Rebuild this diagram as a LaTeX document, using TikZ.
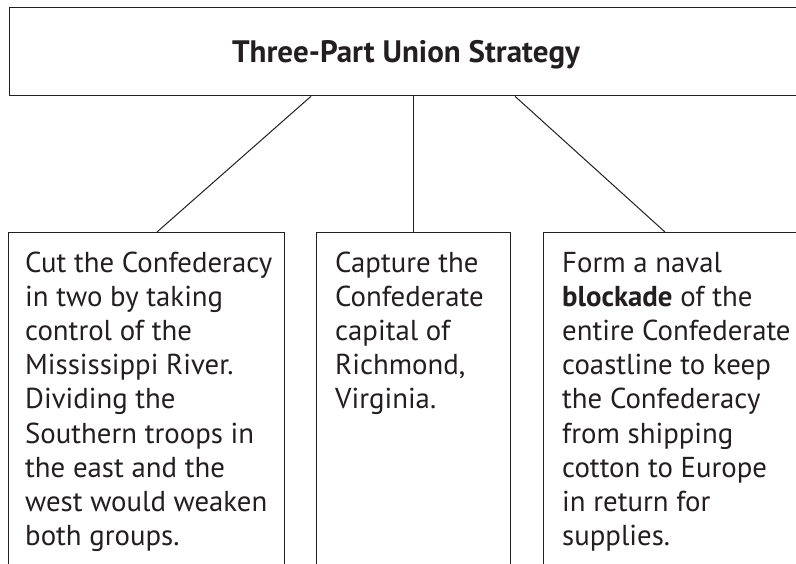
\documentclass[tikz,border=0pt]{standalone}
\usepackage{fontspec}
\setmainfont{PT Sans}
\usetikzlibrary{calc}
\definecolor{ink}{HTML}{231F20}
% a column of lines whose baseline is that of its first line
\newcommand{\toplines}[1]{\begin{tabular}[t]{@{}l@{}}#1\end{tabular}}
\begin{document}
\begin{tikzpicture}[x=1pt,y=-1pt,
  frame/.style={draw=ink,line width=1.3pt,rectangle,inner sep=0pt,anchor=north west},
  body/.style={anchor=base west,inner sep=0pt,text=ink,
    font=\fontsize{28.8}{34.2}\selectfont},
  link/.style={draw=ink,line width=1pt}]
\useasboundingbox (0,0) rectangle (796,563);
\fill[white] (0,0) rectangle (796,563);
\clip (0,0) rectangle (796,563);

% heading box
\node[frame,minimum width=800pt,minimum height=88pt] (top) at (9,7) {};
\node[anchor=base,inner sep=0pt,text=ink,font=\fontsize{31}{36}\selectfont\bfseries]
  (title) at (406,62) {Three-Part Union Strategy};

% three strategy boxes, open at the bottom
\node[frame,minimum width=276pt,minimum height=360pt] (left) at (8,232) {};
\node[frame,minimum width=194pt,minimum height=360pt] (mid) at (316,232) {};
\node[frame,minimum width=270pt,minimum height=360pt] (right) at (543,232) {};

\node[body] (ltext) at (25,272) {\toplines{Cut the Confederacy\\in two by taking\\control of the\\Mississippi River.\\Dividing the\\Southern troops in\\the east and the\\west would weaken\\both groups.}};
\node[body] (mtext) at (335,272) {\toplines{Capture the\\Confederate\\capital of\\Richmond,\\Virginia.}};
\node[body] (rtext) at (562,272) {\toplines{Form a naval\\\textbf{blockade} of the\\entire Confederate\\coastline to keep\\the Confederacy\\from shipping\\cotton to Europe\\in return for\\supplies.}};

% connectors from the heading to each box
\coordinate (t1) at ($(top.south west)+(302,0)$);
\coordinate (t2) at ($(top.south west)+(404,0)$);
\coordinate (t3) at ($(top.south west)+(506,0)$);
\coordinate (b1) at ($(left.north west)+(149,0)$);
\coordinate (b2) at ($(mid.north west)+(97,0)$);
\coordinate (b3) at ($(right.north west)+(122,0)$);
\draw[link] (t1) -- (b1);
\draw[link] (t2) -- (b2);
\draw[link] (t3) -- (b3);
\end{tikzpicture}
\end{document}
